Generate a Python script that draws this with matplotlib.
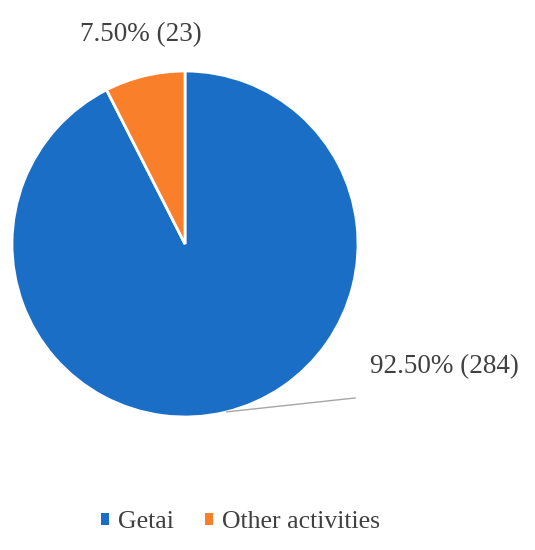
import numpy as np
import matplotlib.pyplot as plt
from matplotlib.patches import Patch

# Data
categories = ["Getai", "Other activities"]
counts = [284, 23]
percents = [92.50, 7.50]
colors = ["#1b6ec6", "#f97f2a"]

plt.rcParams['font.family'] = ['Liberation Serif', 'DejaVu Serif']

fig = plt.figure(figsize=(5.35, 5.5), dpi=100)

# pie area (center ~ (185,244) px, radius ~173 px)
ax = fig.add_axes([12 / 535, 1 - 417 / 550, 346 / 535, 346 / 550])

wedges, _ = ax.pie(counts, colors=colors, startangle=90, counterclock=False,
                   radius=1, wedgeprops=dict(edgecolor="white", linewidth=2))
ax.set_xlim(-1, 1)
ax.set_ylim(-1, 1)
ax.set_aspect("equal")

labels = ["%.2f%% (%d)" % (p, c) for p, c in zip(percents, counts)]

# label for Getai with leader line
ang = np.deg2rad(-76)
ax.plot([np.cos(ang), 0.983], [np.sin(ang), -0.89], color="#a6a6a6",
        linewidth=1, clip_on=False)
ax.text(1.07, -0.71, labels[0], fontsize=19.5, color="#404040",
        ha="left", va="center", clip_on=False)

# label for other activities
ax.text(-0.607, 1.21, labels[1], fontsize=19.5, color="#404040",
        ha="left", va="center", clip_on=False)

# legend
handles = [Patch(facecolor=c, edgecolor="none") for c in colors]
fig.legend(handles, categories, loc="center", bbox_to_anchor=(0.45, 0.051),
           ncol=2, frameon=False, fontsize=18.5, handlelength=0.32,
           handleheight=0.32, handletextpad=0.35, columnspacing=1.2,
           labelcolor="#404040")

fig.savefig("out.png", dpi=100)
